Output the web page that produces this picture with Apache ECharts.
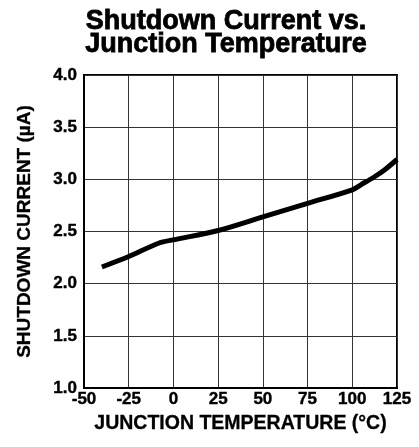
<!DOCTYPE html>
<html>
<head>
<meta charset="utf-8">
<script src="https://cdn.jsdelivr.net/npm/echarts@6/dist/echarts.min.js"></script>
<style>html,body{margin:0;padding:0;background:#fff}#c{width:419px;height:447px}</style>
</head>
<body>
<div id="c"></div>
<script>
var titleLines = ['Shutdown Current vs.', 'Junction Temperature'];
var xAxisName = 'JUNCTION TEMPERATURE (°C)';
var yAxisName = 'SHUTDOWN CURRENT (µA)';
var temperatures = [-40, -25, -8, 0, 25, 50, 75, 100, 105, 112, 118, 125];
var shutdownCurrent = [2.16, 2.26, 2.39, 2.42, 2.51, 2.64, 2.77, 2.90, 2.95, 3.02, 3.09, 3.19];

var FONT = '"Liberation Sans", Arial, Helvetica, sans-serif';
var chart = echarts.init(document.getElementById('c'), null, {renderer: 'canvas'});
chart.setOption({
  animation: false,
  backgroundColor: '#fff',
  title: {
    text: titleLines.join('\n'),
    left: 221,
    textAlign: 'center',
    top: 5,
    textStyle: {fontFamily: FONT, fontWeight: 'bold', fontSize: 27, lineHeight: 23, color: '#000',
      textBorderColor: '#000', textBorderWidth: 0.8}
  },
  grid: {left: 84, top: 75, width: 313, height: 313, show: true, borderColor: '#000', borderWidth: 2, backgroundColor: 'transparent'},
  xAxis: {
    type: 'value', min: -50, max: 125, interval: 25,
    name: xAxisName, nameLocation: 'middle', nameGap: 20,
    nameTextStyle: {fontFamily: FONT, fontWeight: 'bold', fontSize: 19.5, color: '#000',
      textBorderColor: '#000', textBorderWidth: 0.3},
    axisLine: {show: true, onZero: false, lineStyle: {color: '#000', width: 2}},
    axisTick: {show: false},
    axisLabel: {fontFamily: FONT, fontWeight: 'bold', fontSize: 17, color: '#000', margin: 3,
      textBorderColor: '#000', textBorderWidth: 0.4},
    splitLine: {show: true, lineStyle: {color: '#333', width: 1}}
  },
  yAxis: {
    type: 'value', min: 1, max: 4, interval: 0.5,
    name: yAxisName, nameLocation: 'middle', nameGap: 50, nameRotate: 90,
    nameTextStyle: {fontFamily: FONT, fontWeight: 'bold', fontSize: 19, color: '#000',
      textBorderColor: '#000', textBorderWidth: 0.3},
    axisLine: {show: true, onZero: false, lineStyle: {color: '#000', width: 2}},
    axisTick: {show: false},
    axisLabel: {fontFamily: FONT, fontWeight: 'bold', fontSize: 17, color: '#000', margin: 7,
      textBorderColor: '#000', textBorderWidth: 0.4,
      formatter: function (v) { return v.toFixed(1); }},
    splitLine: {show: true, lineStyle: {color: '#333', width: 1}}
  },
  series: [{
    type: 'line',
    data: temperatures.map(function (t, i) { return [t, shutdownCurrent[i]]; }),
    showSymbol: false,
    smooth: 0.3,
    lineStyle: {color: '#000', width: 5},
    z: 5
  }]
});
</script>
</body>
</html>
